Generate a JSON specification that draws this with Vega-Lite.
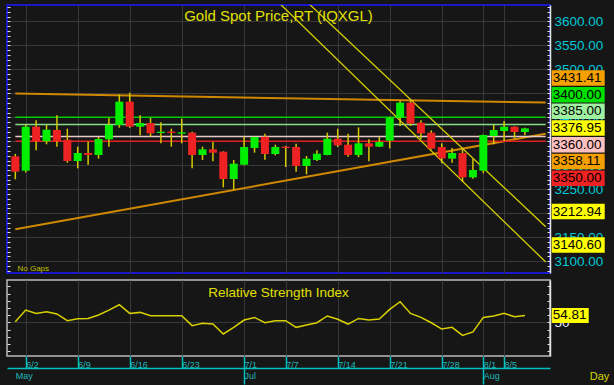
{
  "$schema": "https://vega.github.io/schema/vega-lite/v6.json",
  "background": "#161616",
  "padding": {"left": 5, "top": 4, "right": 0, "bottom": 0},
  "config": {
    "view": {"stroke": null},
    "font": "Liberation Sans",
    "axis": {"labelFont": "Liberation Sans", "titleFont": "Liberation Sans", "gridColor": "#383838", "gridWidth": 1},
    "text": {"font": "Liberation Sans"}
  },
  "datasets": {
    "candles": [
      {"date": "2025-05-30", "open": 3318.7, "high": 3323.5, "low": 3270.8, "close": 3286.7},
      {"date": "2025-06-02", "open": 3288.8, "high": 3384.6, "low": 3285.0, "close": 3380.5},
      {"date": "2025-06-03", "open": 3380.5, "high": 3393.7, "low": 3331.2, "close": 3349.9},
      {"date": "2025-06-04", "open": 3349.9, "high": 3384.0, "low": 3343.7, "close": 3374.2},
      {"date": "2025-06-05", "open": 3373.5, "high": 3404.1, "low": 3338.8, "close": 3349.9},
      {"date": "2025-06-06", "open": 3353.4, "high": 3376.3, "low": 3305.5, "close": 3309.0},
      {"date": "2025-06-09", "open": 3309.0, "high": 3338.8, "low": 3293.7, "close": 3325.6},
      {"date": "2025-06-10", "open": 3325.6, "high": 3349.2, "low": 3301.3, "close": 3321.5},
      {"date": "2025-06-11", "open": 3321.5, "high": 3358.9, "low": 3313.8, "close": 3354.8},
      {"date": "2025-06-12", "open": 3354.1, "high": 3398.5, "low": 3338.8, "close": 3384.0},
      {"date": "2025-06-13", "open": 3384.0, "high": 3447.8, "low": 3378.4, "close": 3432.6},
      {"date": "2025-06-16", "open": 3432.6, "high": 3451.3, "low": 3378.0, "close": 3380.5},
      {"date": "2025-06-17", "open": 3380.5, "high": 3404.1, "low": 3362.4, "close": 3388.1},
      {"date": "2025-06-18", "open": 3388.1, "high": 3398.5, "low": 3359.6, "close": 3366.6},
      {"date": "2025-06-19", "open": 3367.3, "high": 3389.5, "low": 3345.8, "close": 3370.1},
      {"date": "2025-06-20", "open": 3370.1, "high": 3376.3, "low": 3338.8, "close": 3367.3},
      {"date": "2025-06-23", "open": 3365.9, "high": 3397.1, "low": 3345.8, "close": 3368.7},
      {"date": "2025-06-24", "open": 3368.0, "high": 3370.0, "low": 3293.7, "close": 3321.5},
      {"date": "2025-06-25", "open": 3321.5, "high": 3338.8, "low": 3311.0, "close": 3333.3},
      {"date": "2025-06-26", "open": 3333.3, "high": 3348.5, "low": 3308.3, "close": 3326.3},
      {"date": "2025-06-27", "open": 3328.4, "high": 3329.0, "low": 3254.1, "close": 3271.4},
      {"date": "2025-06-30", "open": 3271.4, "high": 3311.0, "low": 3248.5, "close": 3303.4},
      {"date": "2025-07-01", "open": 3301.3, "high": 3359.6, "low": 3300.0, "close": 3338.1},
      {"date": "2025-07-02", "open": 3336.0, "high": 3359.6, "low": 3326.3, "close": 3358.9},
      {"date": "2025-07-03", "open": 3359.6, "high": 3365.9, "low": 3311.7, "close": 3323.5},
      {"date": "2025-07-04", "open": 3323.5, "high": 3343.0, "low": 3320.8, "close": 3338.1},
      {"date": "2025-07-07", "open": 3338.8, "high": 3340.2, "low": 3296.5, "close": 3336.0},
      {"date": "2025-07-08", "open": 3338.1, "high": 3345.0, "low": 3286.7, "close": 3298.5},
      {"date": "2025-07-09", "open": 3298.5, "high": 3319.4, "low": 3281.2, "close": 3313.8},
      {"date": "2025-07-10", "open": 3311.0, "high": 3331.2, "low": 3309.0, "close": 3324.2},
      {"date": "2025-07-11", "open": 3321.5, "high": 3368.0, "low": 3321.0, "close": 3355.5},
      {"date": "2025-07-14", "open": 3355.5, "high": 3376.3, "low": 3338.1, "close": 3341.6},
      {"date": "2025-07-15", "open": 3343.0, "high": 3365.9, "low": 3318.0, "close": 3321.5},
      {"date": "2025-07-16", "open": 3321.5, "high": 3379.1, "low": 3317.0, "close": 3345.8},
      {"date": "2025-07-17", "open": 3345.8, "high": 3354.1, "low": 3308.3, "close": 3338.8},
      {"date": "2025-07-18", "open": 3338.8, "high": 3358.9, "low": 3338.0, "close": 3348.5},
      {"date": "2025-07-21", "open": 3351.3, "high": 3400.5, "low": 3335.3, "close": 3399.2},
      {"date": "2025-07-22", "open": 3399.2, "high": 3434.0, "low": 3381.9, "close": 3430.5},
      {"date": "2025-07-23", "open": 3430.5, "high": 3434.0, "low": 3382.0, "close": 3386.7},
      {"date": "2025-07-24", "open": 3388.8, "high": 3393.7, "low": 3354.1, "close": 3366.6},
      {"date": "2025-07-25", "open": 3368.0, "high": 3372.8, "low": 3333.0, "close": 3334.6},
      {"date": "2025-07-28", "open": 3338.1, "high": 3345.8, "low": 3304.1, "close": 3314.5},
      {"date": "2025-07-29", "open": 3313.8, "high": 3336.0, "low": 3305.5, "close": 3325.6},
      {"date": "2025-07-30", "open": 3325.6, "high": 3335.3, "low": 3265.2, "close": 3274.9},
      {"date": "2025-07-31", "open": 3274.9, "high": 3313.8, "low": 3272.0, "close": 3290.2},
      {"date": "2025-08-01", "open": 3288.8, "high": 3364.0, "low": 3283.3, "close": 3363.1},
      {"date": "2025-08-04", "open": 3361.0, "high": 3384.0, "low": 3343.7, "close": 3373.5},
      {"date": "2025-08-05", "open": 3371.5, "high": 3392.3, "low": 3350.6, "close": 3380.5},
      {"date": "2025-08-06", "open": 3380.5, "high": 3381.0, "low": 3355.5, "close": 3369.4},
      {"date": "2025-08-07", "open": 3369.4, "high": 3378.0, "low": 3362.4, "close": 3376.95}
    ],
    "rsi": [
      {"date": "2025-05-30", "rsi": 50.4}, {"date": "2025-06-02", "rsi": 58.5}, {"date": "2025-06-03", "rsi": 56.2},
      {"date": "2025-06-04", "rsi": 57.4}, {"date": "2025-06-05", "rsi": 55.8}, {"date": "2025-06-06", "rsi": 51.1},
      {"date": "2025-06-09", "rsi": 52.5}, {"date": "2025-06-10", "rsi": 52.7}, {"date": "2025-06-11", "rsi": 55.1},
      {"date": "2025-06-12", "rsi": 58.5}, {"date": "2025-06-13", "rsi": 62.2}, {"date": "2025-06-16", "rsi": 56.2},
      {"date": "2025-06-17", "rsi": 56.9}, {"date": "2025-06-18", "rsi": 54.6}, {"date": "2025-06-19", "rsi": 54.6},
      {"date": "2025-06-20", "rsi": 54.6}, {"date": "2025-06-23", "rsi": 54.6}, {"date": "2025-06-24", "rsi": 47.7},
      {"date": "2025-06-25", "rsi": 49.3}, {"date": "2025-06-26", "rsi": 48.8}, {"date": "2025-06-27", "rsi": 41.9},
      {"date": "2025-06-30", "rsi": 46.5}, {"date": "2025-07-01", "rsi": 51.6}, {"date": "2025-07-02", "rsi": 53.4},
      {"date": "2025-07-03", "rsi": 49.7}, {"date": "2025-07-04", "rsi": 51.1}, {"date": "2025-07-07", "rsi": 51.1},
      {"date": "2025-07-08", "rsi": 46.5}, {"date": "2025-07-09", "rsi": 48.1}, {"date": "2025-07-10", "rsi": 49.7},
      {"date": "2025-07-11", "rsi": 54.4}, {"date": "2025-07-14", "rsi": 52.1}, {"date": "2025-07-15", "rsi": 48.8},
      {"date": "2025-07-16", "rsi": 52.7}, {"date": "2025-07-17", "rsi": 51.6}, {"date": "2025-07-18", "rsi": 52.3},
      {"date": "2025-07-21", "rsi": 59.0}, {"date": "2025-07-22", "rsi": 64.3}, {"date": "2025-07-23", "rsi": 56.2},
      {"date": "2025-07-24", "rsi": 53.4}, {"date": "2025-07-25", "rsi": 49.7}, {"date": "2025-07-28", "rsi": 45.3},
      {"date": "2025-07-29", "rsi": 46.5}, {"date": "2025-07-30", "rsi": 40.9}, {"date": "2025-07-31", "rsi": 43.3},
      {"date": "2025-08-01", "rsi": 53.4}, {"date": "2025-08-04", "rsi": 54.4}, {"date": "2025-08-05", "rsi": 56.2},
      {"date": "2025-08-06", "rsi": 53.9}, {"date": "2025-08-07", "rsi": 54.81}
    ],
    "levels": [
      {"name": "Upper trendline", "value": 3431.41},
      {"name": "Resistance", "value": 3400},
      {"name": "Level 3385", "value": 3385},
      {"name": "Last", "value": 3376.95},
      {"name": "Level 3360", "value": 3360},
      {"name": "Lower trendline", "value": 3358.11},
      {"name": "Support", "value": 3350},
      {"name": "Channel upper", "value": 3212.94},
      {"name": "Channel lower", "value": 3140.6}
    ],
    "trend": [
      {"line": "Upper trendline", "date": "2025-05-30", "value": 3449.4},
      {"line": "Upper trendline", "date": "2025-08-11", "value": 3430.7},
      {"line": "Lower trendline", "date": "2025-05-30", "value": 3166.7},
      {"line": "Lower trendline", "date": "2025-08-11", "value": 3365.9}
    ],
    "channel": [
      {"line": "Channel upper", "date": "2025-07-09", "value": 3641.3},
      {"line": "Channel upper", "date": "2025-08-11", "value": 3172.1},
      {"line": "Channel lower", "date": "2025-07-04", "value": 3646.0},
      {"line": "Channel lower", "date": "2025-08-11", "value": 3098.5}
    ]
  },
  "spacing": 5,
  "vconcat": [
    {
      "width": 543,
      "height": 268,
      "view": {"stroke": "#1818c8", "strokeWidth": 2},
      "title": {"text": "Gold Spot Price,RT (IQXGL)", "color": "#e0e000", "fontSize": 15, "fontWeight": "normal", "font": "Liberation Sans", "anchor": "middle", "frame": "group", "baseline": "top", "offset": -19},
      "resolve": {"scale": {"y": "independent"}},
      "layer": [
        {
          "resolve": {"axis": {"y": "independent"}},
          "layer": [
            {
              "data": {"name": "trend"},
              "mark": {"type": "line", "color": "#d08800", "strokeWidth": 2, "clip": true},
              "encoding": {
                "x": {"field": "date", "type": "ordinal",
                  "scale": {"type": "point", "padding": 0.606, "align": 0.66, "domain": ["2025-05-30","2025-06-02","2025-06-03","2025-06-04","2025-06-05","2025-06-06","2025-06-09","2025-06-10","2025-06-11","2025-06-12","2025-06-13","2025-06-16","2025-06-17","2025-06-18","2025-06-19","2025-06-20","2025-06-23","2025-06-24","2025-06-25","2025-06-26","2025-06-27","2025-06-30","2025-07-01","2025-07-02","2025-07-03","2025-07-04","2025-07-07","2025-07-08","2025-07-09","2025-07-10","2025-07-11","2025-07-14","2025-07-15","2025-07-16","2025-07-17","2025-07-18","2025-07-21","2025-07-22","2025-07-23","2025-07-24","2025-07-25","2025-07-28","2025-07-29","2025-07-30","2025-07-31","2025-08-01","2025-08-04","2025-08-05","2025-08-06","2025-08-07","2025-08-08","2025-08-11"]},
                  "axis": {"values": ["2025-06-02","2025-06-09","2025-06-16","2025-06-23","2025-07-01","2025-07-07","2025-07-14","2025-07-21","2025-07-28","2025-08-01","2025-08-05"], "labels": false, "ticks": false, "domain": false, "grid": true, "title": "No Gaps", "titleColor": "#c0c000", "titleFontSize": 8, "titleFontWeight": "normal", "titleX": 10, "titleY": -5, "titleAlign": "left", "titleAnchor": "start", "titleBaseline": "middle"}},
                "y": {"field": "value", "type": "quantitative", "scale": {"domain": [3075.6, 3634], "nice": false, "zero": false},
                  "axis": {"orient": "right", "values": [3100,3150,3200,3250,3300,3350,3400,3450,3500,3550,3600], "format": ".2f", "ticks": false, "domain": true, "domainColor": "#e8e8e8", "domainWidth": 1.5, "labelColor": "#00c8d8", "labelFontSize": 13.5, "labelPadding": 4, "labelBaseline": "middle", "grid": true, "title": null}},
                "detail": {"field": "line"}
              }
            },
            {
              "data": {"name": "levels"},
              "transform": [{"filter": {"field": "name", "oneOf": ["Resistance", "Level 3385", "Level 3360", "Support"]}}],
              "mark": {"type": "rule", "strokeWidth": 1.6},
              "encoding": {
                "x": {"datum": "2025-05-30", "type": "ordinal"},
                "x2": {"datum": "2025-08-11"},
                "y": {"field": "value", "type": "quantitative",
                  "axis": {"orient": "right", "offset": -543, "values": [3080,3090,3100,3110,3120,3130,3140,3150,3160,3170,3180,3190,3200,3210,3220,3230,3240,3250,3260,3270,3280,3290,3300,3310,3320,3330,3340,3350,3360,3370,3380,3390,3400,3410,3420,3430,3440,3450,3460,3470,3480,3490,3500,3510,3520,3530,3540,3550,3560,3570,3580,3590,3600,3610,3620,3630], "labels": false, "domain": false, "grid": false, "tickColor": "#e0e0e0", "tickSize": 3, "title": null}},
                "stroke": {"field": "name", "type": "nominal", "legend": null,
                  "scale": {"domain": ["Resistance", "Level 3385", "Level 3360", "Support"], "range": ["#00cc00", "#88dd88", "#ecc8c8", "#e02020"]}}
              }
            },
            {
              "data": {"name": "channel"},
              "mark": {"type": "line", "color": "#d8d000", "strokeWidth": 1.3, "clip": true},
              "encoding": {
                "x": {"field": "date", "type": "ordinal"},
                "y": {"field": "value", "type": "quantitative",
                  "axis": {"orient": "left", "offset": -543, "values": [3080,3090,3100,3110,3120,3130,3140,3150,3160,3170,3180,3190,3200,3210,3220,3230,3240,3250,3260,3270,3280,3290,3300,3310,3320,3330,3340,3350,3360,3370,3380,3390,3400,3410,3420,3430,3440,3450,3460,3470,3480,3490,3500,3510,3520,3530,3540,3550,3560,3570,3580,3590,3600,3610,3620,3630], "labels": false, "domain": false, "grid": false, "tickColor": "#e0e0e0", "tickSize": 3, "title": null}},
                "detail": {"field": "line"}
              }
            },
            {
              "data": {"name": "candles"},
              "mark": {"type": "rule", "color": "#d4c800", "strokeWidth": 1.5},
              "encoding": {
                "x": {"field": "date", "type": "ordinal"},
                "y": {"field": "low", "type": "quantitative", "axis": null},
                "y2": {"field": "high"}
              }
            },
            {
              "data": {"name": "candles"},
              "mark": {"type": "bar", "width": 8},
              "encoding": {
                "x": {"field": "date", "type": "ordinal"},
                "y": {"field": "open", "type": "quantitative", "axis": null},
                "y2": {"field": "close"},
                "color": {"condition": {"test": "datum.close >= datum.open", "value": "#00ee00"}, "value": "#ee2222"}
              }
            }
          ]
        },
        {
          "data": {"name": "levels"},
          "mark": {"type": "rule", "strokeWidth": 15.5, "xOffset": 6, "x2Offset": 59, "strokeCap": "butt"},
          "encoding": {
            "x": {"datum": "2025-08-11", "type": "ordinal"},
            "x2": {"datum": "2025-08-11"},
            "y": {"field": "name", "type": "ordinal", "axis": null,
              "scale": {"type": "point", "padding": 0.525, "align": 0.352, "domain": ["t1", "t2", "t3", "t4", "Upper trendline", "Resistance", "Level 3385", "Last", "Level 3360", "Lower trendline", "Support", "gap1", "Channel upper", "gap2", "Channel lower", "b1"]}},
            "color": {"field": "name", "type": "nominal", "legend": null,
              "scale": {"domain": ["Upper trendline", "Resistance", "Level 3385", "Last", "Level 3360", "Lower trendline", "Support", "Channel upper", "Channel lower"], "range": ["#f5a000", "#00e000", "#a0f0a0", "#ffff00", "#ffc0c0", "#f5a000", "#ee2222", "#ffff00", "#ffff00"]}}
          }
        },
        {
          "data": {"name": "levels"},
          "mark": {"type": "text", "align": "left", "baseline": "middle", "dx": 7, "fontSize": 13.5, "color": "#000000", "font": "Liberation Sans"},
          "encoding": {
            "x": {"datum": "2025-08-11", "type": "ordinal"},
            "y": {"field": "name", "type": "ordinal", "axis": null,
              "scale": {"type": "point", "padding": 0.525, "align": 0.352, "domain": ["t1", "t2", "t3", "t4", "Upper trendline", "Resistance", "Level 3385", "Last", "Level 3360", "Lower trendline", "Support", "gap1", "Channel upper", "gap2", "Channel lower", "b1"]}},
            "text": {"field": "value", "type": "quantitative", "format": ".2f"}
          }
        }
      ]
    },
    {
      "width": 543,
      "height": 76,
      "view": {"stroke": "#bcbcbc", "strokeWidth": 1.5},
      "title": {"text": "Relative Strength Index", "color": "#e0e000", "fontSize": 13.5, "fontWeight": "normal", "font": "Liberation Sans", "anchor": "middle", "frame": "group", "baseline": "top", "offset": -19},
      "resolve": {"axis": {"x": "independent", "y": "independent"}},
      "layer": [
        {
          "data": {"name": "rsi"},
          "mark": {"type": "line", "color": "#d8d000", "strokeWidth": 1.5},
          "encoding": {
            "x": {"field": "date", "type": "ordinal",
              "scale": {"type": "point", "padding": 0.606, "align": 0.66, "domain": ["2025-05-30","2025-06-02","2025-06-03","2025-06-04","2025-06-05","2025-06-06","2025-06-09","2025-06-10","2025-06-11","2025-06-12","2025-06-13","2025-06-16","2025-06-17","2025-06-18","2025-06-19","2025-06-20","2025-06-23","2025-06-24","2025-06-25","2025-06-26","2025-06-27","2025-06-30","2025-07-01","2025-07-02","2025-07-03","2025-07-04","2025-07-07","2025-07-08","2025-07-09","2025-07-10","2025-07-11","2025-07-14","2025-07-15","2025-07-16","2025-07-17","2025-07-18","2025-07-21","2025-07-22","2025-07-23","2025-07-24","2025-07-25","2025-07-28","2025-07-29","2025-07-30","2025-07-31","2025-08-01","2025-08-04","2025-08-05","2025-08-06","2025-08-07","2025-08-08","2025-08-11"]},
              "axis": {"orient": "bottom", "values": ["2025-06-02","2025-06-09","2025-06-16","2025-06-23","2025-07-01","2025-07-07","2025-07-14","2025-07-21","2025-07-28","2025-08-01","2025-08-05"],
                "labelExpr": "parseInt(substring(datum.value,5,7)) + '/' + parseInt(substring(datum.value,8,10))",
                "labelAngle": 0, "labelAlign": "left", "labelBaseline": "middle", "labelDx": 1.5, "labelPadding": -3.5, "labelColor": "#20b8b8", "labelFontSize": 9, "labelOverlap": false, "labelFlush": false, "labelBound": false,
                "ticks": true, "tickColor": "#00c0c0", "tickSize": 12, "tickWidth": 1.5, "domain": false, "grid": true, "title": null}},
            "y": {"field": "rsi", "type": "quantitative", "scale": {"domain": [26.6, 79.4], "nice": false, "zero": false},
              "axis": {"orient": "right", "values": [50], "ticks": false, "domain": true, "domainColor": "#e0e0e0", "domainWidth": 1.5, "labelColor": "#e0e8ff", "labelFontSize": 13.5, "labelPadding": 4, "labelBaseline": "middle", "grid": true, "title": null}}
          }
        },
        {
          "data": {"name": "rsi"},
          "transform": [{"filter": "datum.date == '2025-08-07'"}],
          "mark": {"type": "rule", "color": "#ffff00", "strokeWidth": 15, "xOffset": 6, "x2Offset": 43, "strokeCap": "butt"},
          "encoding": {
            "x": {"datum": "2025-08-11", "type": "ordinal",
              "axis": {"orient": "bottom", "offset": 12, "values": ["2025-05-30", "2025-07-01", "2025-08-01"],
                "labelExpr": "substring(datum.value,5,7) == '05' ? 'May' : substring(datum.value,5,7) == '07' ? 'Jul' : 'Aug'",
                "labelAngle": 0, "labelAlign": "left", "labelBaseline": "middle", "labelDx": 1, "labelPadding": -9, "labelColor": "#20b8b8", "labelFontSize": 9, "labelOverlap": false, "labelFlush": false, "labelBound": false,
                "ticks": true, "tickColor": {"condition": {"test": "datum.value == '2025-05-30'", "value": "transparent"}, "value": "#00c0c0"}, "tickSize": 16, "tickWidth": 1.5,
                "domain": true, "domainColor": "#00c0c0", "domainWidth": 1.5, "grid": false,
                "title": "Day", "titleColor": "#d8d800", "titleFontSize": 11, "titleFontWeight": "normal", "titleX": 592, "titleY": 8, "titleAlign": "center", "titleBaseline": "middle"}},
            "x2": {"datum": "2025-08-11"},
            "y": {"field": "rsi", "type": "quantitative",
              "axis": {"orient": "left", "offset": -543, "values": [30,35,40,45,50,55,60,65,70,75], "labels": false, "domain": false, "grid": false, "tickColor": "#e0e0e0", "tickSize": 3, "title": null}}
          }
        },
        {
          "data": {"name": "rsi"},
          "transform": [{"filter": "datum.date == '2025-08-07'"}],
          "mark": {"type": "text", "align": "left", "baseline": "middle", "dx": 7, "fontSize": 13.5, "color": "#000000", "font": "Liberation Sans"},
          "encoding": {
            "x": {"datum": "2025-08-11", "type": "ordinal", "axis": null},
            "y": {"field": "rsi", "type": "quantitative",
              "axis": {"orient": "right", "offset": -543, "values": [30,35,40,45,50,55,60,65,70,75], "labels": false, "domain": false, "grid": false, "tickColor": "#e0e0e0", "tickSize": 3, "title": null}},
            "text": {"field": "rsi", "type": "quantitative", "format": ".2f"}
          }
        }
      ]
    }
  ]
}
